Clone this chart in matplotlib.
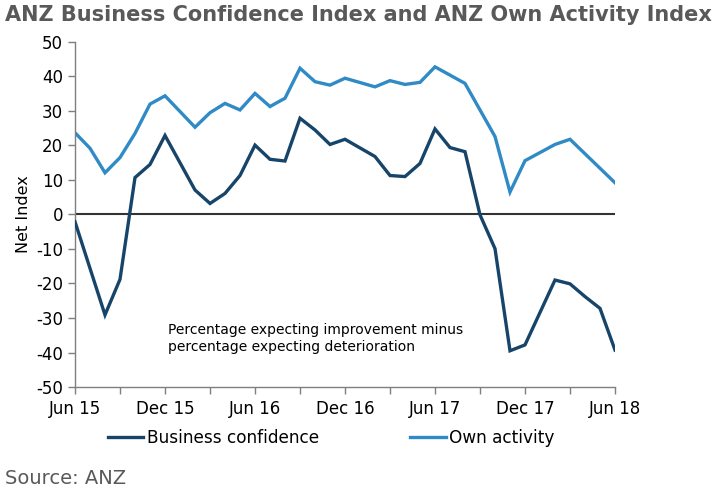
import matplotlib
matplotlib.use("Agg")
import matplotlib.pyplot as plt
from matplotlib.lines import Line2D

plt.rcParams["axes.unicode_minus"] = False

# Survey months (no January survey)
months = ["2015-06", "2015-07", "2015-08", "2015-09", "2015-10", "2015-11", "2015-12",
          "2016-02", "2016-03", "2016-04", "2016-05", "2016-06", "2016-07", "2016-08",
          "2016-09", "2016-10", "2016-11", "2016-12",
          "2017-02", "2017-03", "2017-04", "2017-05", "2017-06", "2017-07", "2017-08",
          "2017-09", "2017-10", "2017-11", "2017-12",
          "2018-02", "2018-03", "2018-04", "2018-05", "2018-06"]

business_confidence = [-2.1, -15.6, -29.1, -18.8, 10.7, 14.5, 22.9,
                       7.1, 3.2, 6.1, 11.3, 20.1, 16.0, 15.5,
                       27.9, 24.5, 20.3, 21.8,
                       16.8, 11.3, 11.0, 14.8, 24.8, 19.4, 18.2,
                       -0.1, -9.9, -39.5, -37.8,
                       -19.0, -20.1, -23.8, -27.2, -39.3]

own_activity = [23.7, 19.2, 12.1, 16.5, 23.5, 32.0, 34.4,
                25.3, 29.5, 32.2, 30.3, 35.1, 31.3, 33.7,
                42.4, 38.5, 37.5, 39.5,
                37.0, 38.8, 37.7, 38.3, 42.8, 40.4, 38.0,
                30.3, 22.6, 6.5, 15.6,
                20.3, 21.8, 17.6, 13.4, 9.2]

tick_labels = ["Jun 15", "Dec 15", "Jun 16", "Dec 16", "Jun 17", "Dec 17", "Jun 18"]


def month_index(s):
    y, m = s.split("-")
    return (int(y) - 2015) * 12 + int(m) - 6


x = [month_index(m) for m in months]

dark = "#17456A"
light = "#2F8AC6"
grey = "#595959"

fig = plt.figure(figsize=(7.14, 4.91), dpi=100)
ax = fig.add_axes([75 / 714, 1 - 387 / 491, 540 / 714, 345 / 491])

ax.axhline(0, color="#333333", lw=1.5, zorder=1)
ax.plot(x, business_confidence, color=dark, lw=2.4, zorder=3, solid_joinstyle="miter")
ax.plot(x, own_activity, color=light, lw=2.4, zorder=2, solid_joinstyle="miter")

ax.set_xlim(0, 36)
ax.set_ylim(-50, 50)
ax.set_yticks(range(-50, 51, 10))
ax.set_xticks(range(0, 37, 3))
ax.set_xticklabels([tick_labels[i // 2] if i % 2 == 0 else "" for i in range(13)])

for s in ["top", "right"]:
    ax.spines[s].set_visible(False)
for s in ["left", "bottom"]:
    ax.spines[s].set_color("#7F7F7F")
    ax.spines[s].set_linewidth(1.0)
ax.tick_params(axis="both", colors="#7F7F7F", labelcolor="black", labelsize=12,
               length=5, width=1.0, direction="out")
ax.tick_params(axis="x", pad=4)
ax.set_ylabel("Net Index", fontsize=11.5, labelpad=4)

ax.text(6.2, -36, "Percentage expecting improvement minus\npercentage expecting deterioration",
        fontsize=10, color="black", va="center", ha="left", linespacing=1.25)

fig.text(0.007, 0.99, "ANZ Business Confidence Index and ANZ Own Activity Index",
         fontsize=15, fontweight="bold", color=grey, ha="left", va="top")

handles = [Line2D([], [], color=dark, lw=2.4), Line2D([], [], color=light, lw=2.4)]
fig.legend(handles, ["Business confidence", "Own activity"], loc="center",
           bbox_to_anchor=(0.464, 1 - 438 / 491), ncol=2, frameon=False, fontsize=12.2,
           handlelength=2.1, handletextpad=0.2, columnspacing=5.4)

fig.text(0.007, 1 - 479 / 491, "Source: ANZ", fontsize=14, color=grey, ha="left", va="center")

fig.savefig("out.png", dpi=100)
